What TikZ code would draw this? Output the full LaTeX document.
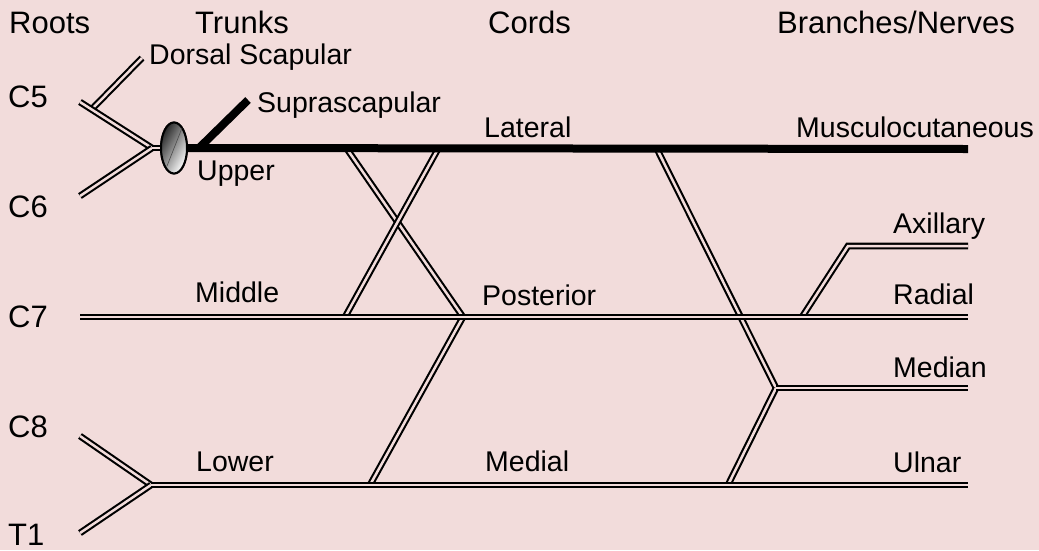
\documentclass[tikz,border=0pt]{standalone}
\usepackage{fontspec}
\setmainfont{Liberation Sans}
\usetikzlibrary{shapes.geometric}
\definecolor{bgpink}{HTML}{F2DCDB}
\tikzset{
  nerve/.style={draw=black, line width=2.1pt, double=bgpink, double distance=2.5pt, line join=miter},
  heavy/.style={draw=black, line width=8pt},
  head/.style={anchor=base west, inner sep=0pt, font=\fontsize{31}{36}\selectfont},
  lbl/.style={anchor=base west, inner sep=0pt, font=\fontsize{28.5}{33}\selectfont},
  knotstyle/.style={ellipse, draw=black, line width=2pt, minimum width=26pt, minimum height=51pt,
      inner sep=0pt, left color=black!85, right color=white, shading angle=60},
}
\begin{document}
\begin{tikzpicture}[x=1pt, y=-1pt]
\fill[bgpink] (0,0) rectangle (1039,550);
\useasboundingbox (0,0) rectangle (1039,550);

% column headings
\node[head] (hroots) at (9,33) {Roots};
\node[head] (htrunks) at (195,33) {Trunks};
\node[head] (hcords) at (488,33) {Cords};
\node[head] (hbranches) at (777,33) {Branches/Nerves};

% spinal roots
\node[head] (c5) at (8,107) {C5};
\node[head] (c6) at (8,217) {C6};
\node[head] (c7) at (8,327) {C7};
\node[head] (c8) at (8,437) {C8};
\node[head] (t1) at (8,545) {T1};

% points of the plexus
\coordinate (c5s) at (80,102);
\coordinate (c6s) at (80,196);
\coordinate (c7s) at (80,317);
\coordinate (c8s) at (80,436);
\coordinate (t1s) at (80,533);
\coordinate (dsb) at (93,108);
\coordinate (dse) at (142,58);
\coordinate (uj) at (152,148);
\coordinate (ssb) at (198,149);
\coordinate (sse) at (248,100);
\coordinate (lj) at (151,485);
\coordinate (latA) at (347,149);
\coordinate (latB) at (438,149);
\coordinate (midB) at (345,317);
\coordinate (post) at (463,317);
\coordinate (lowP) at (370,485);
\coordinate (latM) at (657,149);
\coordinate (medJ) at (776,388);
\coordinate (lowM) at (728,485);
\coordinate (axb) at (802,317);
\coordinate (axc) at (848,246);
\coordinate (upEnd) at (968,149);
\coordinate (axEnd) at (968,246);
\coordinate (radEnd) at (968,317);
\coordinate (medEnd) at (968,388);
\coordinate (ulEnd) at (968,485);

% upper trunk knot (placed first so that lines can attach to it)
\node[knotstyle] (knot) at (174,148) {};

% roots and trunks
\draw[nerve] (dsb) -- (dse);
\draw[nerve] (c5s) -- (uj);
\draw[nerve] (c6s) -- (uj);
\draw[nerve] (uj) -- (knot.west);
\draw[nerve] (c8s) -- (lj);
\draw[nerve] (t1s) -- (lj);

% divisions and cords
\draw[nerve] (latA) -- (post);
\draw[nerve] (latB) -- (midB);
\draw[nerve] (post) -- (lowP);
\draw[nerve] (latM) -- (medJ);
\draw[nerve] (lowM) -- (medJ);
\draw[nerve] (axb) -- (axc) -- (axEnd);

% horizontal trunks and terminal nerves
\draw[nerve] (c7s) -- (radEnd);
\draw[nerve] (lj) -- (ulEnd);
\draw[nerve] (medJ) -- (medEnd);

% upper trunk, lateral cord and musculocutaneous nerve
\draw[heavy] (knot.east) -- (upEnd);
\draw[heavy] (ssb) -- (sse);

% knot drawn again on top, with its seam
\node[knotstyle] (knot2) at (174,148) {};
\coordinate (seamA) at (182,128);
\coordinate (seamB) at (167,166);
\draw[black!70, line width=0.6pt] (seamA) -- (seamB);

% labels
\node[lbl] (ldorsal) at (149,64) {Dorsal Scapular};
\node[lbl] (lsupra) at (257,112) {Suprascapular};
\node[lbl] (lupper) at (197,180) {Upper};
\node[lbl] (llateral) at (484,137) {Lateral};
\node[lbl] (lmusc) at (796,137) {Musculocutaneous};
\node[lbl] (lmiddle) at (195,302) {Middle};
\node[lbl] (lposterior) at (482,305) {Posterior};
\node[lbl] (laxillary) at (893,233) {Axillary};
\node[lbl] (lradial) at (893,304) {Radial};
\node[lbl] (lmedian) at (893,377) {Median};
\node[lbl] (llower) at (196,471) {Lower};
\node[lbl] (lmedial) at (485,471) {Medial};
\node[lbl] (lulnar) at (893,472) {Ulnar};
\end{tikzpicture}
\end{document}
